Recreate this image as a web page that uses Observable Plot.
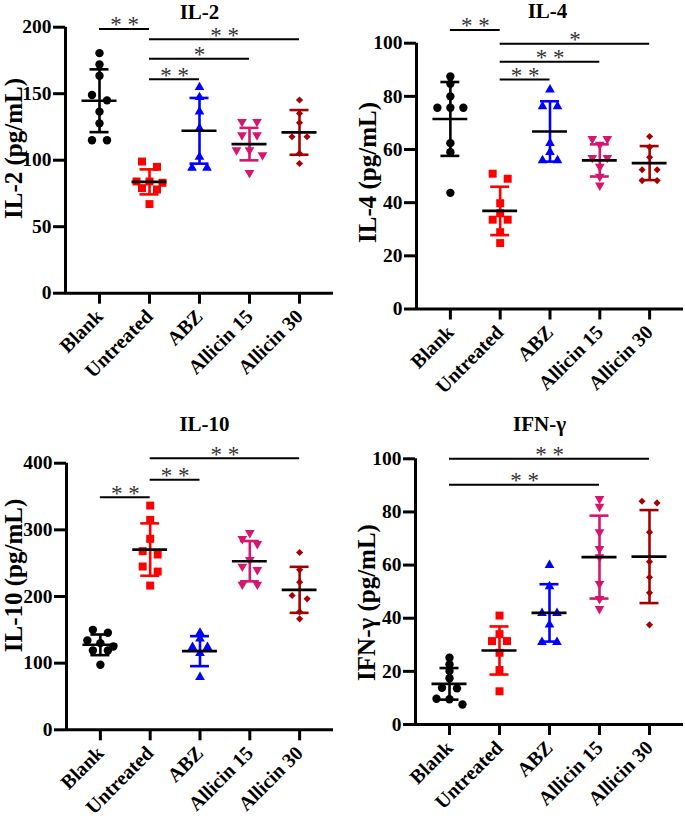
<!DOCTYPE html>
<html><head><meta charset="utf-8">
<script src="https://cdn.jsdelivr.net/npm/d3@7"></script>
<script src="https://cdn.jsdelivr.net/npm/@observablehq/plot@0.6"></script>
<style>
body{margin:0;background:#fff;}
#wrap{position:relative;width:685px;height:818px;overflow:hidden;background:#fff;}
.panel{position:absolute;}
</style></head><body><div id="wrap"></div>
<script>
// ---- categories & styling ----
const groups = ["Blank", "Untreated", "ABZ", "Allicin 15", "Allicin 30"];
const groupColors = ["#000000", "#ff0000", "#0000ff", "#d6156f", "#a50000"];
const groupSymbols = ["circle", "square", "triangle", "triangle", "diamond2"];
const groupRotate = [0, 0, 0, 180, 0];
const groupR = [4.2, 4.5, 3.6, 3.6, 3.2];

// ---- IL-2 ----
const il2Values = [
  [180.5, 172, 163.5, 149, 145, 136.5, 127.7, 115, 115],
  [99, 95, 84, 84, 83, 79, 78, 67],
  [154.8, 147.3, 136.5, 123.9, 102.5, 94.2, 94.2],
  [128.9, 128.9, 118.9, 118.9, 107.6, 107.6, 103.8, 90.5],
  [145.3, 135.2, 128.2, 117.6, 117.6, 105.1, 97.5]
];
const il2Means = [144.7, 83.7, 122.1, 112.1, 120.9];
const il2Sds = [23.6, 9.4, 24.7, 12.2, 16.8];
const il2Ticks = [0, 50, 100, 150, 200];
const il2SigFrom = [0, 1, 1, 1];
const il2SigTo = [1, 4, 3, 2];
const il2SigY = [198.6, 191, 176.2, 160.9];
const il2SigLabel = ["* *", "* *", "*", "* *"];

// ---- IL-4 ----
const il4Values = [
  [87.5, 84.7, 80, 75.7, 75.7, 75.7, 62.4, 59, 43.7],
  [50.9, 49, 39.8, 36, 33.6, 33.6, 28.9, 24.8],
  [82.5, 76.2, 76.2, 62.4, 59, 55.9, 55.9],
  [64, 64, 61.9, 56.9, 56.9, 53.6, 49.8, 46.5],
  [64.9, 60.9, 57.1, 52.4, 52.4, 48.3, 48.3]
];
const il4Means = [71.5, 36.9, 66.8, 55.9, 54.9];
const il4Sds = [13.9, 9.1, 11.35, 6.05, 6.4];
const il4Ticks = [0, 20, 40, 60, 80, 100];
const il4SigFrom = [0, 1, 1, 1];
const il4SigTo = [1, 4, 3, 2];
const il4SigY = [105, 99.8, 93, 86.3];
const il4SigLabel = ["* *", "*", "* *", "* *"];

// ---- IL-10 ----
const il10Values = [
  [150, 145.5, 134, 130, 125, 119, 119, 97.5],
  [336.4, 315, 286.5, 268, 263, 245, 237.4, 216.4],
  [145.5, 136.5, 124, 124, 115, 79],
  [295.5, 286.5, 279, 255, 245, 240, 218, 218],
  [266, 240, 221.5, 201.5, 196.5, 177, 166.5]
];
const il10Means = [127.5, 270.4, 118, 253, 210];
const il10Sds = [15.5, 39.3, 22.5, 30.25, 34.5];
const il10Ticks = [0, 100, 200, 300, 400];
const il10SigFrom = [0, 1, 1];
const il10SigTo = [1, 2, 4];
const il10SigY = [349, 375, 407.4];
const il10SigLabel = ["* *", "* *", "* *"];

// ---- IFN-γ ----
const ifnValues = [
  [25.1, 22.6, 20.1, 17.4, 13.8, 13.6, 9.7, 9.5, 7.5],
  [41, 34, 31.4, 31.4, 27, 20.5, 12.5],
  [60, 52, 41.9, 41.9, 37.6, 31, 31],
  [84.9, 82, 72.4, 66.1, 63, 53, 47.3, 43.5],
  [84, 83.4, 72.4, 61.3, 55.4, 49.6, 37.5]
];
const ifnMeans = [15.3, 27.85, 42, 63, 63.2];
const ifnSds = [5.95, 9.05, 10.8, 15.6, 17.5];
const ifnTicks = [0, 20, 40, 60, 80, 100];
const ifnSigFrom = [0, 0];
const ifnSigTo = [4, 3];
const ifnSigY = [100, 90.2];
const ifnSigLabel = ["* *", "* *"];

const FONT = "'Liberation Serif','Times New Roman',serif";
const PAD = 0.68;
const xDomain = [-PAD, groups.length - 1 + PAD];

// horizontal scatter of close values (computed, not stored)
function spread(values, pxPerUnit) {
  const idx = d3.range(values.length).sort((a, b) => values[b] - values[a]);
  const off = new Array(values.length).fill(0);
  let cluster = [idx[0]];
  const flush = () => {
    const k = cluster.length, s = k === 2 ? 15 : 13;
    cluster.forEach((j, i) => off[j] = (i - (k - 1) / 2) * s);
  };
  for (let n = 1; n < idx.length; n++) {
    const j = idx[n], prev = cluster[cluster.length - 1];
    if ((values[prev] - values[j]) * pxPerUnit < 5.5 && cluster.length < 3) cluster.push(j);
    else { flush(); cluster = [j]; }
  }
  flush();
  return off;
}

function panel(cfg) {
  const {values, means, sds, ticks, sigFrom, sigTo, sigY, sigLabel, title, ylabel,
         width, height, ml, mr, mt, mb, titleX, titleY, labelX, labelY} = cfg;
  const ymax = ticks[ticks.length - 1];
  const pxPerUnit = (height - mt - mb) / ymax;
  const step = (width - ml - mr) / (groups.length - 1 + 2 * PAD);
  const gi = d3.range(groups.length);
  const sig = d3.range(sigY.length);

  const dotMarks = gi.map(g => {
    const off = spread(values[g], pxPerUnit);
    const pts = values[g].map((v, k) => ({x: g + off[k] / step, v}));
    return Plot.dot(pts, {x: "x", y: "v", symbol: groupSymbols[g], fill: groupColors[g],
      stroke: "none", r: groupR[g], rotate: groupRotate[g]});
  });

  return Plot.plot({
    width, height, marginLeft: ml, marginRight: mr, marginTop: mt, marginBottom: mb,
    style: {fontFamily: FONT, fontWeight: "bold", fontSize: "19px", background: "white", color: "black", overflow: "visible"},
    x: {domain: xDomain},
    y: {domain: [0, ymax]},
    marks: [
      Plot.axisY({ticks, tickSize: 12, tickPadding: 2, strokeWidth: 3, label: null,
        fontSize: 19.5, fontWeight: "bold", fontFamily: FONT}),
      Plot.axisX({ticks: gi, tickFormat: i => groups[i], tickRotate: -45, tickSize: 11,
        tickPadding: 9, strokeWidth: 3, label: null, fontSize: 20, fontWeight: "bold", fontFamily: FONT}),
      Plot.ruleX([xDomain[0]], {strokeWidth: 3, stroke: "black"}),
      Plot.ruleY([0], {strokeWidth: 3, stroke: "black"}),
      ...dotMarks,
      Plot.ruleX(gi, {x: i => i, y1: i => means[i] - sds[i], y2: i => means[i] + sds[i],
        stroke: i => groupColors[i], strokeWidth: 2.6}),
      Plot.ruleY(gi, {y: i => means[i] + sds[i], x1: i => i - 0.19, x2: i => i + 0.19,
        stroke: i => groupColors[i], strokeWidth: 2.6}),
      Plot.ruleY(gi, {y: i => means[i] - sds[i], x1: i => i - 0.19, x2: i => i + 0.19,
        stroke: i => groupColors[i], strokeWidth: 2.6}),
      Plot.ruleY(gi, {y: i => means[i], x1: i => i - 0.35, x2: i => i + 0.35,
        stroke: "black", strokeWidth: 2.6}),
      Plot.ruleY(sig, {y: i => sigY[i], x1: i => sigFrom[i], x2: i => sigTo[i],
        stroke: "black", strokeWidth: 2}),
      Plot.text(sig, {x: i => (sigFrom[i] + sigTo[i]) / 2, y: i => sigY[i], text: i => sigLabel[i],
        dy: -4, fontSize: 23, fontWeight: "normal", fill: "#333", fontFamily: FONT}),
      Plot.text([title], {frameAnchor: "top-left", dx: titleX - ml, dy: titleY - mt,
        fontSize: 21, fontWeight: "bold", textAnchor: "middle", lineAnchor: "middle", fontFamily: FONT}),
      Plot.text([ylabel], {frameAnchor: "top-left", dx: labelX - ml, dy: labelY - mt, rotate: -90,
        fontSize: 25, fontWeight: "bold", textAnchor: "middle", lineAnchor: "middle", fontFamily: FONT})
    ]
  });
}

const panels = [
  {left: 0, top: 0, values: il2Values, means: il2Means, sds: il2Sds, ticks: il2Ticks,
   sigFrom: il2SigFrom, sigTo: il2SigTo, sigY: il2SigY, sigLabel: il2SigLabel,
   title: "IL-2", ylabel: "IL-2 (pg/mL)", width: 340, height: 400, ml: 65, mr: 7, mt: 26.7, mb: 107.3,
   titleX: 199, titleY: 12, labelX: 13.5, labelY: 148},
  {left: 340, top: 0, values: il4Values, means: il4Means, sds: il4Sds, ticks: il4Ticks,
   sigFrom: il4SigFrom, sigTo: il4SigTo, sigY: il4SigY, sigLabel: il4SigLabel,
   title: "IL-4", ylabel: "IL-4 (pg/mL)", width: 345, height: 400, ml: 76, mr: 2, mt: 42.7, mb: 91.5,
   titleX: 207, titleY: 11, labelX: 27, labelY: 172},
  {left: 0, top: 400, values: il10Values, means: il10Means, sds: il10Sds, ticks: il10Ticks,
   sigFrom: il10SigFrom, sigTo: il10SigTo, sigY: il10SigY, sigLabel: il10SigLabel,
   title: "IL-10", ylabel: "IL-10 (pg/mL)", width: 340, height: 418, ml: 66, mr: 7, mt: 62.7, mb: 88.7,
   titleX: 204, titleY: 24, labelX: 13.5, labelY: 175},
  {left: 340, top: 400, values: ifnValues, means: ifnMeans, sds: ifnSds, ticks: ifnTicks,
   sigFrom: ifnSigFrom, sigTo: ifnSigTo, sigY: ifnSigY, sigLabel: ifnSigLabel,
   title: "IFN-γ", ylabel: "IFN-γ (pg/mL)", width: 345, height: 418, ml: 75, mr: 2, mt: 58.3, mb: 94,
   titleX: 199, titleY: 24, labelX: 26, labelY: 202}
];

const wrap = document.getElementById("wrap");
for (const p of panels) {
  const div = document.createElement("div");
  div.className = "panel";
  div.style.left = p.left + "px";
  div.style.top = p.top + "px";
  div.appendChild(panel(p));
  wrap.appendChild(div);
}
</script></body></html>
